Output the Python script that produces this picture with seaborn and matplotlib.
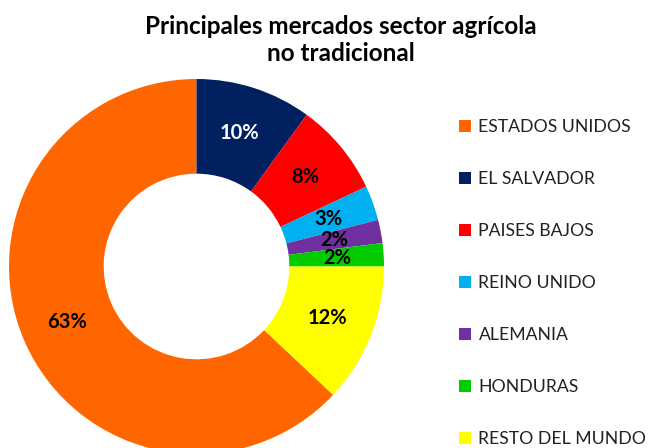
import matplotlib
matplotlib.use("Agg")
import matplotlib.pyplot as plt
import seaborn as sns

countries = ["ESTADOS UNIDOS", "EL SALVADOR", "PAISES BAJOS", "REINO UNIDO",
             "ALEMANIA", "HONDURAS", "RESTO DEL MUNDO"]
shares = [63, 10, 8, 3, 2, 2, 12]
colors = ["#FF6600", "#002060", "#FF0000", "#00B0F0", "#7030A0", "#00CC00", "#FFFF00"]
label_colors = ["black", "white", "black", "black", "black", "black", "black"]
title = "Principales mercados sector agrícola\nno tradicional"

sns.set_theme(style="white")
plt.rcParams["font.family"] = ["Lato", "DejaVu Sans"]

W, H = 650, 448
fig = plt.figure(figsize=(W / 100, H / 100), dpi=100)
fig.patch.set_facecolor("white")

cx, cy, r = 196.5, 266.5, 187.5
ax = fig.add_axes([(cx - r) / W, (H - cy - r) / H, 2 * r / W, 2 * r / H])
total = sum(shares)
start = 90 + 360 * shares[0] / total
wedges, texts, autotexts = ax.pie(
    shares, colors=colors, startangle=start, counterclock=False,
    autopct="%1.0f%%", pctdistance=0.75, radius=1,
    wedgeprops=dict(width=0.505, linewidth=0),
    textprops=dict(fontsize=14.5, fontweight="bold"))
for t, c in zip(autotexts, label_colors):
    t.set_color(c)
ax.set_xlim(-1, 1)
ax.set_ylim(-1, 1)
ax.set_aspect("equal")
ax.axis("off")

fig.text(341 / W, 1 - 40 / H, title, ha="center", va="center",
         fontsize=17.5, fontweight="bold", color="black", linespacing=1.25)

leg = fig.legend(wedges, countries, loc="upper left",
                 bbox_to_anchor=(452 / W, 1 - 112 / H), frameon=False,
                 fontsize=12.7, labelspacing=2.04, handlelength=0.7,
                 handleheight=0.7, handletextpad=0.4, borderaxespad=0)
for t in leg.get_texts():
    t.set_color("#222222")

fig.savefig("out.png", dpi=100, facecolor="white")
